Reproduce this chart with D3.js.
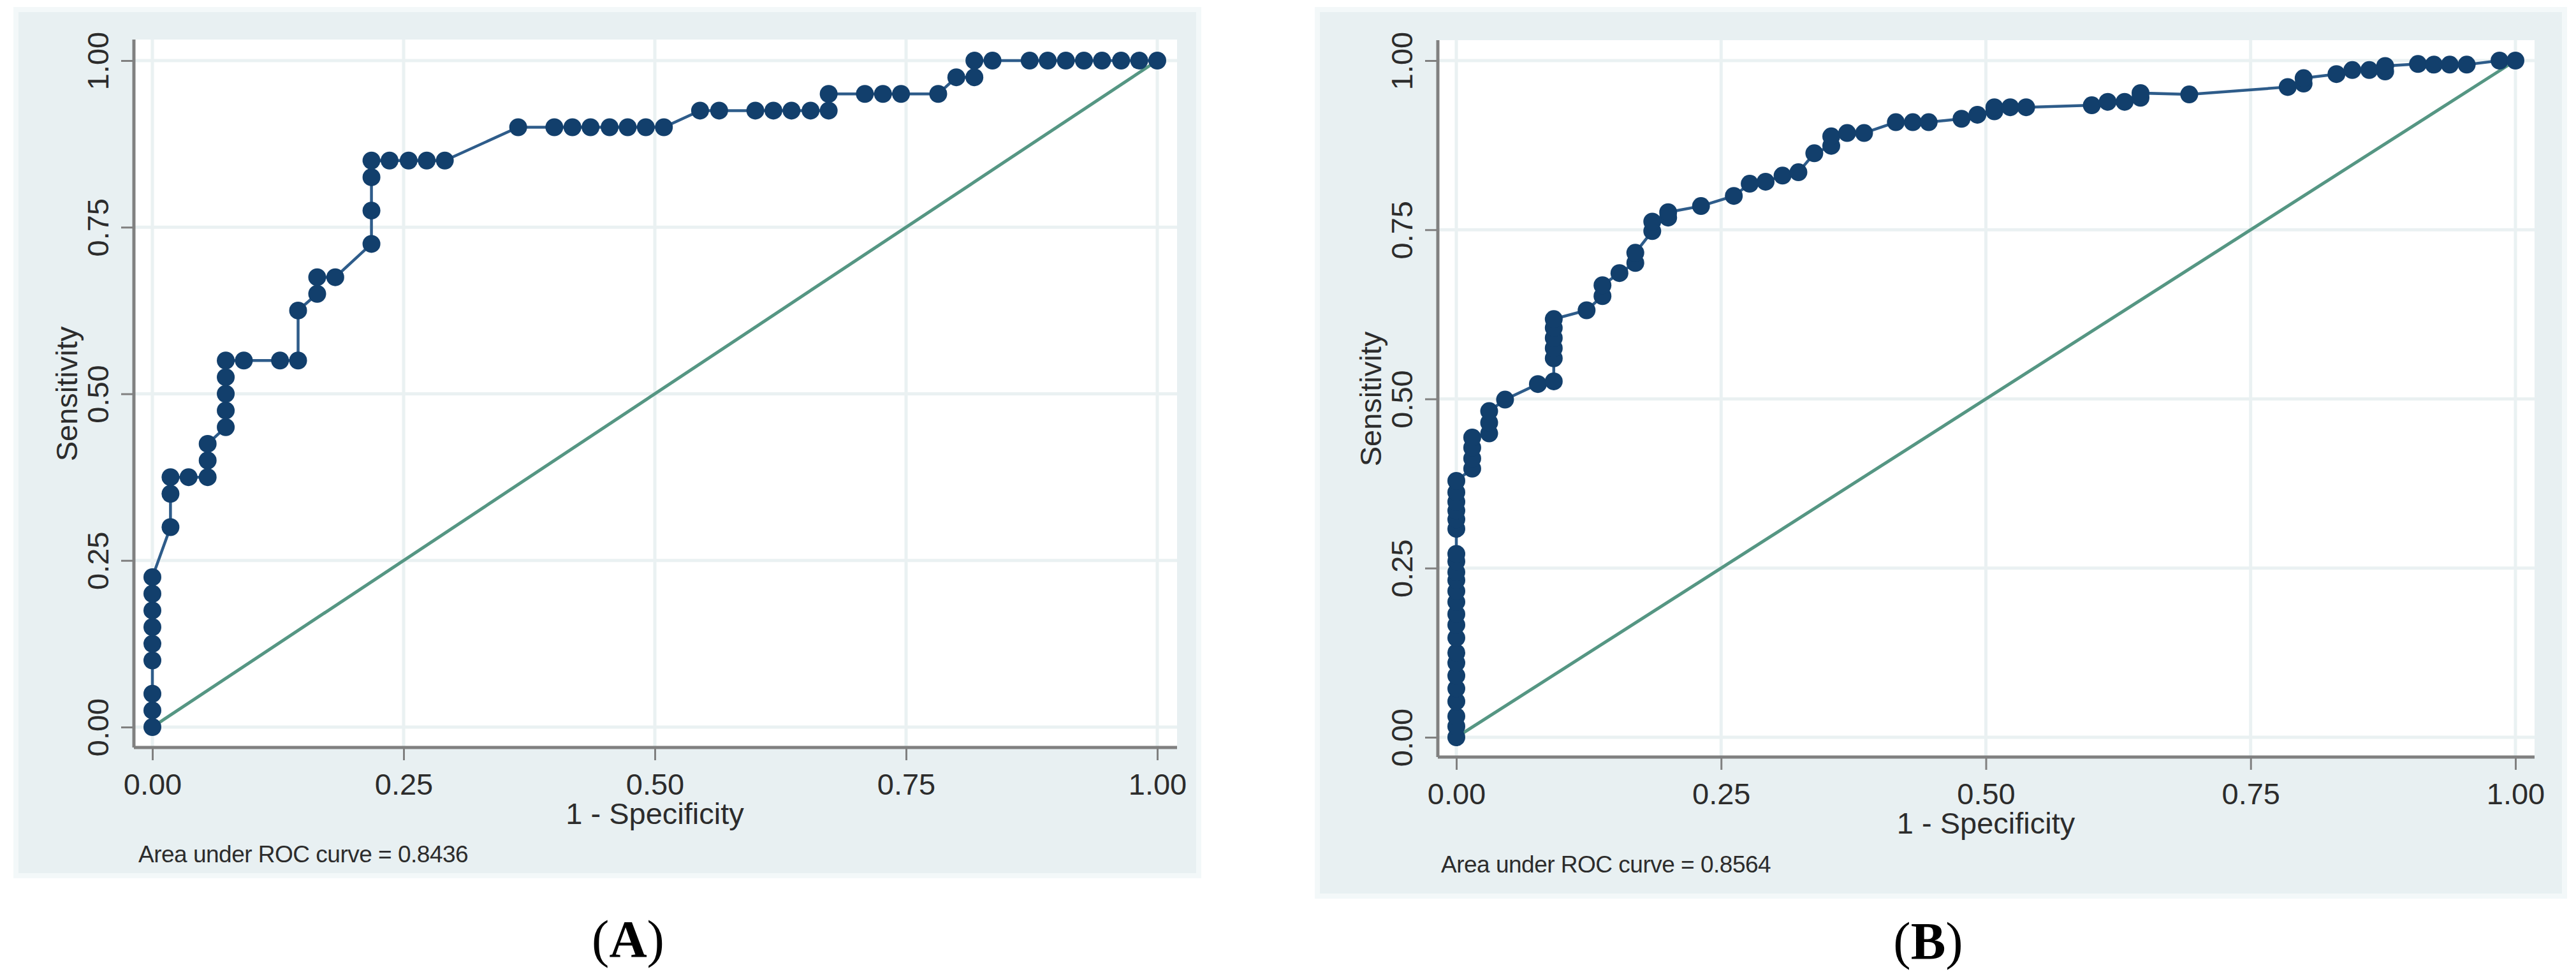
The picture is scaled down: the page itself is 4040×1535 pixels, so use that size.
<!DOCTYPE html>
<html>
<head>
<meta charset="utf-8">
<script src="https://cdn.jsdelivr.net/npm/d3@7"></script>
<style>
  html, body { margin: 0; padding: 0; background: #ffffff; }
  svg { display: block; }
</style>
</head>
<body>
<script>
// ---------------- DATA ----------------
const tickValues = [0, 0.25, 0.5, 0.75, 1];
const tickLabels = ["0.00", "0.25", "0.50", "0.75", "1.00"];
const xTitle = "1 - Specificity";
const yTitle = "Sensitivity";

// Panel A: 1 - specificity, sensitivity
const fprA = [0,0,0,0,0,0,0,0,0,
  0.018,0.018,0.018, 0.036, 0.055,0.055,0.055,
  0.073,0.073,0.073,0.073,0.073, 0.091, 0.127, 0.145,0.145,
  0.164,0.164, 0.182, 0.218,0.218,0.218,0.218,
  0.236, 0.255, 0.273, 0.291, 0.364,
  0.400, 0.418, 0.436, 0.455, 0.473, 0.491, 0.509,
  0.545, 0.564, 0.600, 0.618, 0.636, 0.655, 0.673, 0.673,
  0.709, 0.727, 0.745, 0.782, 0.800, 0.818, 0.818, 0.836,
  0.873, 0.891, 0.909, 0.927, 0.945, 0.964, 0.982, 1.000];
const sensA = [0,0.025,0.05,0.10,0.125,0.15,0.175,0.20,0.225,
  0.30,0.35,0.375, 0.375, 0.375,0.40,0.425,
  0.45,0.475,0.50,0.525,0.55, 0.55, 0.55, 0.55,0.625,
  0.65,0.675, 0.675, 0.725,0.775,0.825,0.85,
  0.85, 0.85, 0.85, 0.85, 0.90,
  0.90, 0.90, 0.90, 0.90, 0.90, 0.90, 0.90,
  0.925, 0.925, 0.925, 0.925, 0.925, 0.925, 0.925, 0.95,
  0.95, 0.95, 0.95, 0.95, 0.975, 0.975, 1.0, 1.0,
  1.0, 1.0, 1.0, 1.0, 1.0, 1.0, 1.0, 1.0];
const aucA = "Area under ROC curve = 0.8436";

// Panel B
const fprB = [0,0,0,0,0,0,0,0,0,0,0,0,0,0,0,0,0,
  0,0,0,0,0,0,
  0.015,0.015,0.015,0.015,
  0.031,0.031,0.031, 0.046, 0.077,
  0.092,0.092,0.092,0.092,0.092,0.092,
  0.123, 0.138,0.138, 0.154, 0.169,0.169, 0.185,0.185, 0.200,0.200,
  0.231, 0.262, 0.277, 0.292, 0.308, 0.323, 0.338, 0.354,0.354,
  0.369, 0.385, 0.415, 0.431, 0.446, 0.477, 0.492, 0.508,0.508,
  0.523, 0.538, 0.600, 0.615, 0.631, 0.646,0.646, 0.692,
  0.785, 0.800,0.800, 0.831, 0.846, 0.862, 0.877,0.877,
  0.908, 0.923, 0.938, 0.954, 0.985, 1.000];
const sensB = [0,0.016,0.031,0.053,0.072,0.091,0.110,0.125,0.147,0.166,0.182,0.200,0.216,0.232,0.244,0.260,0.271,
  0.308,0.322,0.335,0.348,0.362,0.379,
  0.397,0.412,0.428,0.443,
  0.449,0.465,0.482, 0.499, 0.522,
  0.526,0.560,0.575,0.590,0.605,0.618,
  0.631, 0.652,0.668, 0.686, 0.701,0.716, 0.748,0.762, 0.768,0.776,
  0.785, 0.800, 0.818, 0.821, 0.830, 0.835, 0.863, 0.874,0.888,
  0.893, 0.893, 0.909, 0.909, 0.909, 0.914, 0.920, 0.925,0.931,
  0.931, 0.931, 0.934, 0.939, 0.939, 0.945,0.952, 0.950,
  0.961, 0.966,0.974, 0.980, 0.986, 0.986, 0.984,0.992,
  0.995, 0.994, 0.994, 0.994, 1.000, 1.000];
const aucB = "Area under ROC curve = 0.8564";

const panelLabels = ["A", "B"];

// ---------------- STYLE ----------------
const W = 4040, H = 1535;
const C = {
  bg: "#e8f0f2",
  bgEdge: "#f3f8f9",
  plot: "#ffffff",
  grid: "#eaf1f2",
  axis: "#808080",
  text: "#2c2c2c",
  line: "#2e5c8a",
  marker: "#123f6c",
  diag: "#559683"
};
const SANS = "'Liberation Sans', Arial, Helvetica, sans-serif";
const SERIF = "'Liberation Serif', 'Times New Roman', serif";

const svg = d3.select("body").append("svg")
  .attr("width", W).attr("height", H)
  .attr("viewBox", `0 0 ${W} ${H}`);
svg.append("rect").attr("width", W).attr("height", H).attr("fill", "#ffffff");

const panels = [
  { fpr: fprA, sens: sensA, auc: aucA, label: panelLabels[0],
    bg: [25, 15, 1880, 1373], region: [210, 62, 1846, 1172],
    xr: [239, 1815], yr: [1140, 95],
    xTickBase: 1246, xTitleBase: 1292, aucX: 217, aucBase: 1352,
    yTickBaseX: 170, yTitleX: 121, labelX: 985, labelBase: 1500 },
  { fpr: fprB, sens: sensB, auc: aucB, label: panelLabels[1],
    bg: [2066, 15, 4022, 1405], region: [2255, 63, 3975, 1187],
    xr: [2284, 3945], yr: [1156, 95],
    xTickBase: 1261, xTitleBase: 1307, aucX: 2260, aucBase: 1368,
    yTickBaseX: 2215, yTitleX: 2166, labelX: 3024, labelBase: 1503 }
];

panels.forEach(p => {
  const g = svg.append("g");
  const x = d3.scaleLinear().domain([0, 1]).range(p.xr);
  const y = d3.scaleLinear().domain([0, 1]).range(p.yr);

  // graph region background
  g.append("rect")
    .attr("x", p.bg[0]).attr("y", p.bg[1])
    .attr("width", p.bg[2] - p.bg[0]).attr("height", p.bg[3] - p.bg[1])
    .attr("fill", C.bg).attr("stroke", C.bgEdge).attr("stroke-width", 8);

  // plot region
  const [rl, rt, rr, rb] = p.region;
  g.append("rect").attr("x", rl).attr("y", rt)
    .attr("width", rr - rl).attr("height", rb - rt).attr("fill", C.plot);

  // gridlines
  g.append("g").selectAll("line.gx").data(tickValues).join("line")
    .attr("x1", d => x(d)).attr("x2", d => x(d))
    .attr("y1", rt).attr("y2", rb)
    .attr("stroke", C.grid).attr("stroke-width", 5);
  g.append("g").selectAll("line.gy").data(tickValues).join("line")
    .attr("y1", d => y(d)).attr("y2", d => y(d))
    .attr("x1", rl).attr("x2", rr)
    .attr("stroke", C.grid).attr("stroke-width", 5);

  // x axis
  const xAxis = d3.axisBottom(x).tickValues(tickValues)
    .tickFormat((d, i) => tickLabels[i]).tickSize(20).tickSizeOuter(0);
  const gx = g.append("g").attr("transform", `translate(0,${rb})`).call(xAxis);
  gx.select(".domain").attr("d", `M${rl},0H${rr}`)
    .attr("stroke", C.axis).attr("stroke-width", 5);
  gx.selectAll(".tick line").attr("stroke", C.axis).attr("stroke-width", 3);
  gx.selectAll(".tick text")
    .attr("y", p.xTickBase - rb).attr("dy", 0)
    .attr("fill", C.text).style("font-family", SANS).style("font-size", "47px");

  // y axis
  const yAxis = d3.axisLeft(y).tickValues(tickValues)
    .tickFormat((d, i) => tickLabels[i]).tickSize(20).tickSizeOuter(0);
  const gy = g.append("g").attr("transform", `translate(${rl},0)`).call(yAxis);
  gy.select(".domain").attr("d", `M0,${rt}V${rb}`)
    .attr("stroke", C.axis).attr("stroke-width", 5);
  gy.selectAll(".tick line").attr("stroke", C.axis).attr("stroke-width", 3);
  gy.selectAll(".tick text")
    .attr("transform", "rotate(-90)")
    .attr("x", 0).attr("y", p.yTickBaseX - rl).attr("dy", 0)
    .attr("text-anchor", "middle")
    .attr("fill", C.text).style("font-family", SANS).style("font-size", "47px");
  g.selectAll(".domain").attr("fill", "none");

  // axis titles
  g.append("text").attr("x", x(0.5)).attr("y", p.xTitleBase)
    .attr("text-anchor", "middle").attr("fill", C.text)
    .style("font-family", SANS).style("font-size", "47px").text(xTitle);
  g.append("text")
    .attr("transform", `translate(${p.yTitleX},${y(0.5)}) rotate(-90)`)
    .attr("text-anchor", "middle").attr("fill", C.text)
    .style("font-family", SANS).style("font-size", "47px").text(yTitle);

  // diagonal reference line
  g.append("line")
    .attr("x1", x(0)).attr("y1", y(0)).attr("x2", x(1)).attr("y2", y(1))
    .attr("stroke", C.diag).attr("stroke-width", 5);

  // ROC curve
  const pts = p.fpr.map((f, i) => [f, p.sens[i]]);
  g.append("path").datum(pts)
    .attr("d", d3.line().x(d => x(d[0])).y(d => y(d[1])))
    .attr("fill", "none").attr("stroke", C.line).attr("stroke-width", 4.5);
  g.append("g").selectAll("circle").data(pts).join("circle")
    .attr("cx", d => x(d[0])).attr("cy", d => y(d[1])).attr("r", 14)
    .attr("fill", C.marker);

  // AUC note
  g.append("text").attr("x", p.aucX).attr("y", p.aucBase)
    .attr("fill", C.text).style("font-family", SANS).style("font-size", "37px")
    .style("letter-spacing", "-0.5px")
    .text(p.auc);

  // panel label
  const t = svg.append("text").attr("x", p.labelX).attr("y", p.labelBase)
    .attr("text-anchor", "middle").attr("fill", "#000")
    .style("font-family", SERIF).style("font-size", "82px");
  t.append("tspan").text("(");
  t.append("tspan").style("font-weight", "bold").text(p.label);
  t.append("tspan").text(")");
});
</script>
</body>
</html>
